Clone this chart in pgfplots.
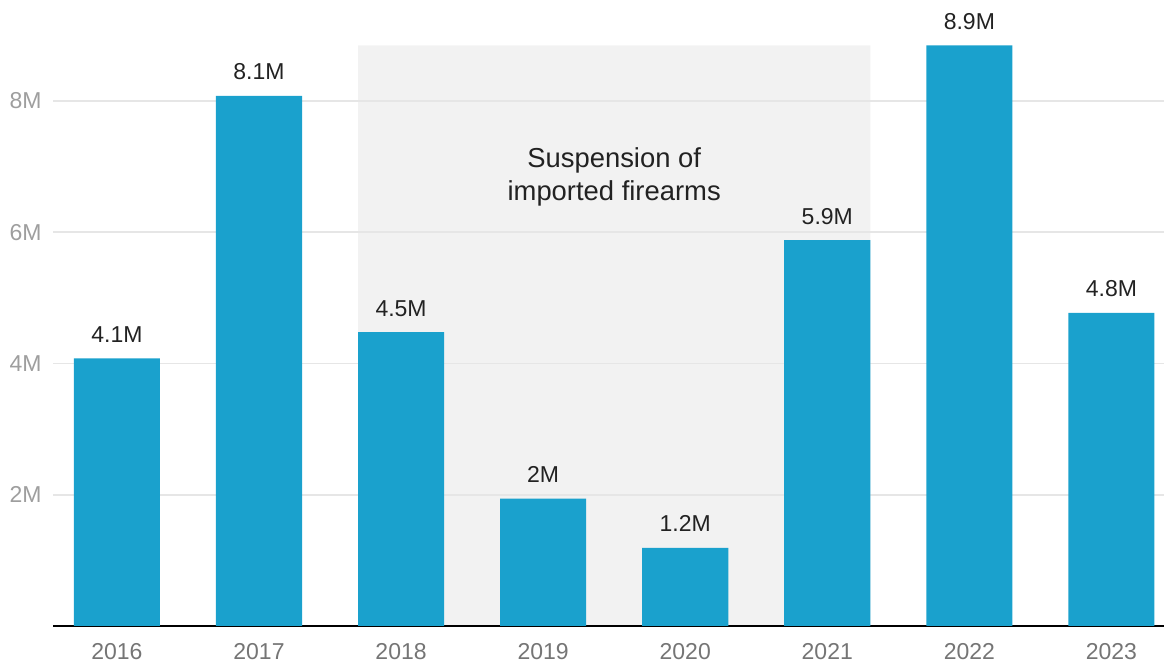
\documentclass[border=0pt]{standalone}
\usepackage{pgfplots}
\pgfplotsset{compat=1.18}
\usepackage{fontspec}
\setmainfont{Liberation Sans}
\definecolor{barc}{RGB}{26,161,205}
\definecolor{shade}{RGB}{242,242,242}
\definecolor{gridc}{RGB}{230,230,230}
\definecolor{ylab}{RGB}{158,158,158}
\definecolor{xlab}{RGB}{117,117,117}
\definecolor{vlab}{RGB}{34,34,34}
\begin{document}
\begin{tikzpicture}
\begin{axis}[
  at={(26.5pt,19pt)}, anchor=south west,
  set layers,
  scale only axis,
  width=555.5pt, height=313pt,
  xmin=-0.45, xmax=7.37,
  ymin=0, ymax=9.54,
  axis x line=bottom, axis y line=left,
  y axis line style={draw=none},
  x axis line style={-, draw=black, line width=0.8pt},
  major tick length=0pt,
  xtick={0,...,7},
  xticklabels={2016,2017,2018,2019,2020,2021,2022,2023},
  ytick={2,4,6,8},
  yticklabels={2M,4M,6M,8M},
  ymajorgrids,
  grid style={gridc, line width=0.8pt},
  xticklabel style={anchor=north, inner sep=0pt, yshift=-8.5pt, font=\fontsize{11.5}{13}\selectfont, text=xlab},
  yticklabel style={anchor=east, inner sep=0pt, xshift=-5.5pt, font=\fontsize{11.5}{13}\selectfont, text=ylab},
  clip=false,
]
\addplot[on layer=axis background, fill=shade, draw=none] coordinates {(1.697,0) (1.697,8.85) (5.303,8.85) (5.303,0)} \closedcycle;
\addplot[ybar, bar width=0.606, fill=barc, draw=none,
  point meta=explicit symbolic,
  nodes near coords,
  every node near coord/.append style={anchor=base, inner sep=0pt, yshift=8pt, text=vlab, font=\fontsize{11.5}{13}\selectfont}]
  coordinates {
  (0,4.08) [4.1M]
  (1,8.08) [8.1M]
  (2,4.48) [4.5M]
  (3,1.94) [2M]
  (4,1.19) [1.2M]
  (5,5.88) [5.9M]
  (6,8.85) [8.9M]
  (7,4.77) [4.8M]
  };
\node[align=center, text=vlab, font=\fontsize{13.7}{16.5}\selectfont] at (axis cs:3.5,6.85) {Suspension of\\imported firearms};
\end{axis}
\pgfresetboundingbox
\useasboundingbox (0,0) rectangle (582pt,332pt);
\end{tikzpicture}
\end{document}
